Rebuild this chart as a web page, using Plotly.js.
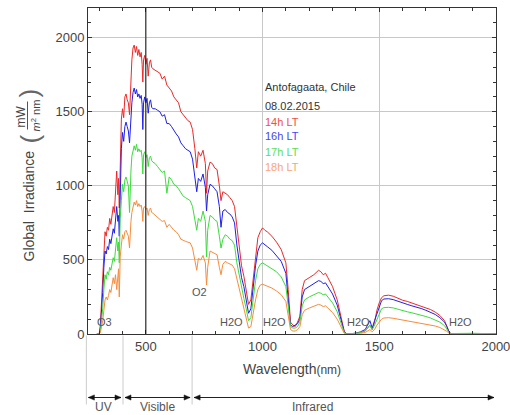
<!DOCTYPE html>
<html>
<head>
<meta charset="utf-8">
<script src="https://cdn.plot.ly/plotly-3.0.1.min.js"></script>
<style>html,body{margin:0;padding:0;background:#fff;}#chart{width:510px;height:415px;}</style>
</head>
<body>
<div id="chart"></div>
<script>
// Wavelength (nm)
const wl = [
 290,300,305,310,315,320,325,330,335,340,
 345,350,355,360,365,370,375,380,383,386,
 390,395,400,405,410,415,420,425,430,433,
 436,440,445,450,455,460,465,470,475,480,
 484,487,490,495,500,505,510,515,520,525,
 530,540,550,560,570,580,590,600,610,620,
 630,640,650,660,670,680,690,700,710,718,
 725,735,745,755,760,765,775,785,795,805,
 815,822,830,840,850,860,870,880,890,900,
 910,920,930,940,950,960,970,980,990,1000,
 1010,1020,1040,1060,1080,1100,1110,1120,1130,1140,
 1150,1160,1170,1180,1200,1220,1240,1250,1260,1270,
 1280,1300,1320,1340,1350,1360,1380,1400,1420,1440,
 1460,1470,1480,1490,1500,1510,1520,1540,1560,1580,
 1600,1620,1640,1660,1680,1700,1720,1740,1760,1780,
 1790,1800,1810,1850,1900,1950,2000
];
// Global irradiance, mW/(m^2 nm)
const irr14h = [
 0,0,60,200,350,560,690,660,720,700,
 780,740,800,860,820,980,1100,940,1050,850,
 1250,1450,1520,1460,1600,1620,1580,1560,1480,1600,
 1700,1850,1930,1950,1900,1940,1880,1920,1870,1900,
 1820,1700,1850,1880,1820,1860,1740,1830,1850,1800,
 1790,1780,1770,1760,1720,1740,1680,1660,1640,1600,
 1580,1560,1500,1480,1460,1440,1430,1380,1250,1120,
 1230,1200,1240,1150,950,1100,1160,1150,1120,1110,
 1000,900,960,950,940,920,900,860,720,600,
 460,390,300,200,230,380,540,650,690,716,
 700,690,660,620,570,480,300,80,60,50,
 80,120,300,360,380,400,430,420,400,410,
 380,320,230,100,20,0,0,5,10,20,
 60,30,80,160,210,245,258,262,255,240,
 228,220,210,200,190,178,165,148,125,90,
 55,12,0,0,0,0,0
];
const irr16h = [
 0,0,40,150,280,450,560,540,590,570,
 640,610,660,710,680,800,860,760,800,660,
 1050,1250,1360,1300,1400,1430,1400,1370,1290,1400,
 1480,1560,1630,1660,1620,1650,1600,1620,1590,1610,
 1550,1380,1560,1600,1560,1590,1490,1560,1580,1530,
 1520,1520,1510,1500,1470,1480,1420,1420,1400,1370,
 1350,1330,1290,1270,1250,1240,1230,1180,1070,960,
 1050,1030,1080,990,830,940,1010,1000,980,960,
 860,720,830,840,820,810,790,750,600,500,
 380,320,230,140,170,320,460,560,600,615,
 600,590,565,530,490,410,250,60,50,60,
 70,100,250,300,320,340,360,355,340,345,
 320,270,195,85,15,0,0,5,15,30,
 90,40,90,140,190,225,236,238,232,220,
 208,200,190,182,172,160,148,132,110,80,
 50,10,0,0,0,0,0
];
const irr17h = [
 0,0,20,80,170,300,400,370,420,400,
 450,430,470,515,490,600,650,560,620,480,
 780,900,1010,960,1040,1060,1030,1000,820,1000,
 1100,1200,1250,1270,1240,1280,1230,1250,1230,1240,
 1190,1080,1210,1230,1190,1210,1130,1190,1200,1170,
 1160,1150,1130,1110,1090,1100,950,1060,1040,1010,
 1000,980,950,930,920,910,900,860,780,700,
 780,760,830,760,520,700,800,790,770,760,
 660,580,640,670,660,640,630,600,480,400,
 300,240,170,90,110,240,360,440,470,480,
 470,465,445,420,385,320,190,50,40,40,
 50,80,190,230,250,265,280,275,265,270,
 250,210,150,65,10,0,0,5,10,20,
 60,30,60,100,140,170,178,180,176,166,
 158,150,143,136,128,118,108,96,80,56,
 35,8,3,5,5,3,0
];
const irr18h = [
 0,0,10,40,90,160,230,250,230,260,
 300,280,320,380,340,400,300,420,440,250,
 520,600,670,640,690,700,680,660,580,700,
 760,820,870,890,870,900,860,880,860,870,
 830,760,850,860,840,850,800,840,850,820,
 815,800,790,770,760,765,720,740,720,700,
 690,670,640,630,625,620,615,580,500,430,
 510,500,530,480,330,450,560,550,540,535,
 450,400,470,490,480,470,465,440,370,310,
 230,170,90,40,50,150,230,300,330,336,
 330,325,310,290,265,220,130,30,20,20,
 30,50,130,160,175,185,200,195,185,190,
 175,145,100,40,5,0,0,0,5,10,
 30,15,30,60,80,100,108,110,106,100,
 95,90,85,80,75,68,62,54,44,30,
 18,4,0,0,0,0,0
];
const seriesNames = ['14h LT','16h LT','17h LT','18h LT'];
const seriesData = [irr14h, irr16h, irr17h, irr18h];
const seriesColors = ['rgb(238,40,40)','rgb(30,30,235)','rgb(60,220,60)','rgb(248,140,60)'];
const legendColors = ['rgb(240,80,70)','rgb(70,70,240)','rgb(90,225,90)','rgb(250,165,120)'];
const legendY = [1434,1333,1231,1130];
const bandLabels = ['O3','O2','H2O','H2O','H2O','H2O'];
const bandX = [324,728,868,1052,1412,1849];
const bandY = [80,282,80,80,80,80];
const regionNames = ['UV','Visible','Infrared'];
const regionEdges = [245,402,698,2000];
const regionLabelX = [318,548,1212];

const X0 = 252, X1 = 2000;
const font = 'Liberation Sans, Arial, sans-serif';
const px2paperX = p => (p - 88) / 408;
const px2paperY = p => (333.5 - p) / 326;
const nm2paper = nm => (nm - X0) / (X1 - X0);

const traces = seriesData.map((d, i) => ({
  x: wl, y: d, type: 'scatter', mode: 'lines', name: seriesNames[i],
  line: {color: seriesColors[i], width: 1}, hoverinfo: 'skip'
}));

const ann = [];
function txt(x, y, text, size, color, extra) {
  ann.push(Object.assign({x: x, y: y, xref: 'paper', yref: 'paper', xanchor: 'center', yanchor: 'middle',
    showarrow: false, text: text, font: {family: font, size: size, color: color}}, extra || {}));
}
// Legend text block
ann.push({x: 1000, y: 1665, xref: 'x', yref: 'y', xanchor: 'left', yanchor: 'middle', showarrow: false,
  text: 'Antofagaata, Chile', font: {family: font, size: 11, color: '#333'}});
ann.push({x: 1000, y: 1542, xref: 'x', yref: 'y', xanchor: 'left', yanchor: 'middle', showarrow: false,
  text: '08.02.2015', font: {family: font, size: 11, color: '#333'}});
seriesNames.forEach((n, i) => ann.push({x: 1000, y: legendY[i], xref: 'x', yref: 'y', xanchor: 'left', yanchor: 'middle',
  showarrow: false, text: n, font: {family: font, size: 11, color: legendColors[i]}}));
// Absorption band labels
bandLabels.forEach((t, i) => ann.push({x: bandX[i], y: bandY[i], xref: 'x', yref: 'y', xanchor: 'center', yanchor: 'middle',
  showarrow: false, text: t, font: {family: font, size: 11, color: '#555'}}));

const shapes = [
  {type: 'line', xref: 'x', yref: 'paper', x0: 500, x1: 500, y0: 0, y1: 1, line: {color: '#111', width: 1}},
  {type: 'line', xref: 'paper', yref: 'paper', x0: px2paperX(27.5), x1: px2paperX(27.5), y0: px2paperY(101), y1: px2paperY(129), line: {color: '#555', width: 1}}
];
// Region separators, arrows and labels
const arrowY = px2paperY(397);
const hw = 6 / 408, hh = 2.6 / 326;
for (let i = 0; i < 3; i++) {
  const x = nm2paper(regionEdges[i]);
  shapes.push({type: 'line', xref: 'paper', yref: 'paper', x0: x, x1: x, y0: px2paperY(335), y1: px2paperY(404), line: {color: '#ccc', width: 1}});
  const a = nm2paper(regionEdges[i]) + 2 / 408;
  const b = nm2paper(regionEdges[i + 1]) - 2 / 408;
  shapes.push({type: 'line', xref: 'paper', yref: 'paper', x0: a, x1: b, y0: arrowY, y1: arrowY, line: {color: '#222', width: 1}});
  shapes.push({type: 'path', xref: 'paper', yref: 'paper', fillcolor: '#111', line: {color: '#111', width: 0.5},
    path: `M${a},${arrowY} L${a + hw},${arrowY + hh} L${a + hw},${arrowY - hh} Z`});
  shapes.push({type: 'path', xref: 'paper', yref: 'paper', fillcolor: '#111', line: {color: '#111', width: 0.5},
    path: `M${b},${arrowY} L${b - hw},${arrowY + hh} L${b - hw},${arrowY - hh} Z`});
  txt(nm2paper(regionLabelX[i]), px2paperY(406.5), regionNames[i], 12, '#555');
}
// Axis titles
txt(px2paperX(292), px2paperY(368), 'Wavelength<span style="font-size:12px">(nm)</span>', 14, '#444');
txt(px2paperX(29), px2paperY(205), 'Global  Irradiance', 14, '#444', {textangle: -90});
txt(px2paperX(29), px2paperY(138), '(', 26, '#666', {textangle: -90});
txt(px2paperX(29), px2paperY(92), ')', 26, '#666', {textangle: -90});
txt(px2paperX(21), px2paperY(116), 'mW', 12, '#444', {textangle: -90});
txt(px2paperX(35), px2paperY(115), '<i>m</i><sup>2</sup> nm', 11, '#444', {textangle: -90});

const axisCommon = {
  showline: true, linecolor: '#333', linewidth: 1, mirror: 'allticks',
  ticks: 'inside', ticklen: 4, tickcolor: '#333', tickwidth: 1,
  showgrid: true, gridcolor: '#c8c8c8', gridwidth: 1, zeroline: false,
  ticklabeloverflow: 'allow',
  tickfont: {family: font, size: 13, color: '#444'},
  minor: {dtick: 100, tick0: 0, ticks: 'inside', ticklen: 3, tickcolor: '#333', showgrid: false}
};

const layout = {
  width: 510, height: 415,
  margin: {l: 88, r: 14, t: 8, b: 81, pad: 0},
  paper_bgcolor: '#fff', plot_bgcolor: '#fff',
  showlegend: false,
  xaxis: Object.assign({}, axisCommon, {range: [X0, X1 + 0.5], dtick: 500, tick0: 0}),
  yaxis: Object.assign({}, axisCommon, {range: [0, 2200], dtick: 500, tick0: 0}),
  annotations: ann, shapes: shapes
};

Plotly.newPlot('chart', traces, layout, {staticPlot: true, displayModeBar: false});
</script>
</body>
</html>
